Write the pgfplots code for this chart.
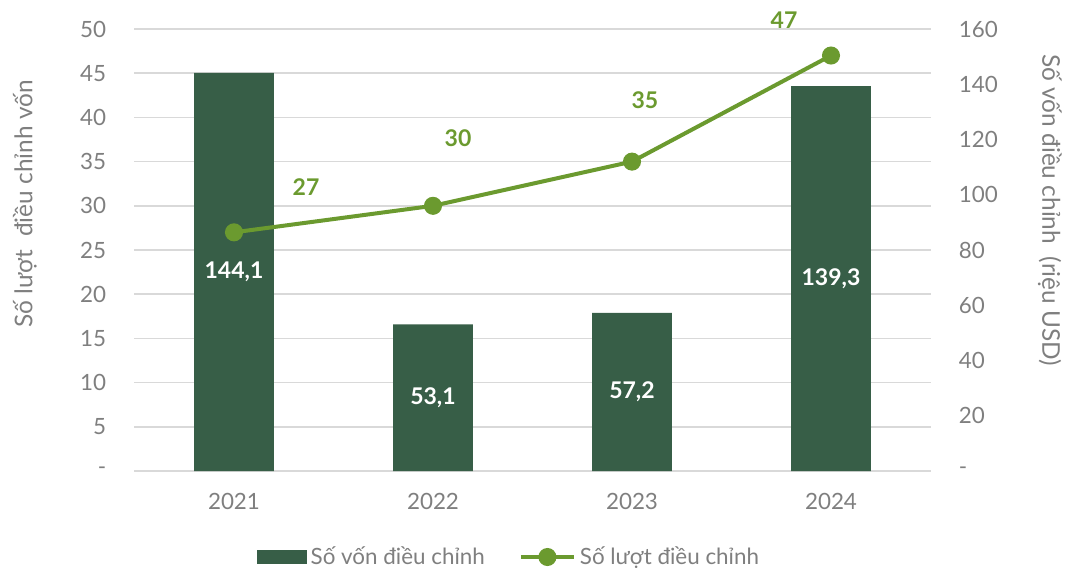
\documentclass[border=0pt]{standalone}
\usepackage{fontspec}
\setmainfont{Lato}
\usepackage{pgfplots}
\pgfplotsset{compat=1.18}
\definecolor{barc}{HTML}{375E47}
\definecolor{linec}{HTML}{6B9A2F}
\definecolor{gridc}{HTML}{D9D9D9}
\definecolor{txt}{HTML}{7F7F7F}
\begin{document}
\begin{tikzpicture}[font=\fontsize{11.2}{13}\selectfont]
\pgfplotsset{
 base/.style={scale only axis, width=398pt, height=221pt, xmin=-0.5, xmax=3.5, clip=false,
   at={(0,0)}, anchor=south west,
   axis line style={draw=none}, major tick length=0pt,
   tick label style={font=\fontsize{11.2}{13}\selectfont, text=txt, inner sep=0pt},
   /pgf/number format/assume math mode=true}
}
% right axis: bars
\begin{axis}[base, ymin=0, ymax=160, axis y line*=right,
  ytick={0,20,...,160}, yticklabels={-,20,40,60,80,100,120,140,160},
  yticklabel shift=14pt, xtick=\empty,
  extra y ticks={0,16,...,160}, extra y tick labels={},
  extra y tick style={grid=major, major grid style={draw=gridc, line width=0.75pt}}]
\addplot[ybar, bar width=0.4, fill=barc, draw=none] coordinates {(0,144.1) (1,53.1) (2,57.2) (3,139.3)};
\addplot[draw=none, mark=none, nodes near coords, point meta=explicit,
  nodes near coords style={anchor=center, text=white, font=\bfseries\fontsize{11.5}{13}\selectfont,
  /pgf/number format/.cd, use comma, fixed, fixed zerofill, precision=1, assume math mode=true}]
  coordinates {(0,72.05)[144.1] (1,26.55)[53.1] (2,28.6)[57.2] (3,69.65)[139.3]};
\node[rotate=-90, text=txt, font=\fontsize{12.2}{14}\selectfont] at (rel axis cs:1.150,0.59) {Số vốn điều chỉnh\ \ (riệu USD)};
\end{axis}
% left axis: line
\begin{axis}[base, ymin=0, ymax=50, axis y line*=left,
  ytick={0,5,...,50}, yticklabels={-,5,10,15,20,25,30,35,40,45,50},
  yticklabel shift=14pt,
  xtick={0,1,2,3}, xticklabels={2021,2022,2023,2024}, xticklabel shift=11pt,
  legend style={at={(axis description cs:0.4717,-0.1946)}, anchor=center, draw=none, fill=none,
    legend columns=2, font=\fontsize{11.2}{13}\selectfont, text=txt,
    nodes={inner sep=0pt, inner xsep=2pt},
    /tikz/every even column/.append style={column sep=15pt}},
  legend cell align=left]
\addlegendimage{legend image code/.code={\fill[barc] (0pt,-3.25pt) rectangle (24.5pt,3.25pt);}}
\addlegendentry{Số vốn điều chỉnh}
\addplot[linec, line width=2pt, mark=*, mark size=3.5pt, mark options={fill=linec, draw=none},
  legend image code/.code={\draw[linec, line width=2pt] (0pt,0pt) -- (26.5pt,0pt); \fill[linec] (13.25pt,0pt) circle (3.5pt);}]
  coordinates {(0,27) (1,30) (2,35) (3,47)};
\addlegendentry{Số lượt điều chỉnh}
\node[text=linec, font=\bfseries\fontsize{11.5}{13}\selectfont] at (axis cs:0.362,32.1) {27};
\node[text=linec, font=\bfseries\fontsize{11.5}{13}\selectfont] at (axis cs:1.126,37.6) {30};
\node[text=linec, font=\bfseries\fontsize{11.5}{13}\selectfont] at (axis cs:2.065,41.9) {35};
\node[text=linec, font=\bfseries\fontsize{11.5}{13}\selectfont] at (axis cs:2.764,51.0) {47};
\node[rotate=90, text=txt, font=\fontsize{12.2}{14}\selectfont] at (rel axis cs:-0.1376,0.604) {Số lượt\ \ điều chỉnh vốn};
\end{axis}
\pgfresetboundingbox
\path[use as bounding box] (-67.25pt,-49pt) rectangle (465.25pt,235.5pt);
\end{tikzpicture}
\end{document}
